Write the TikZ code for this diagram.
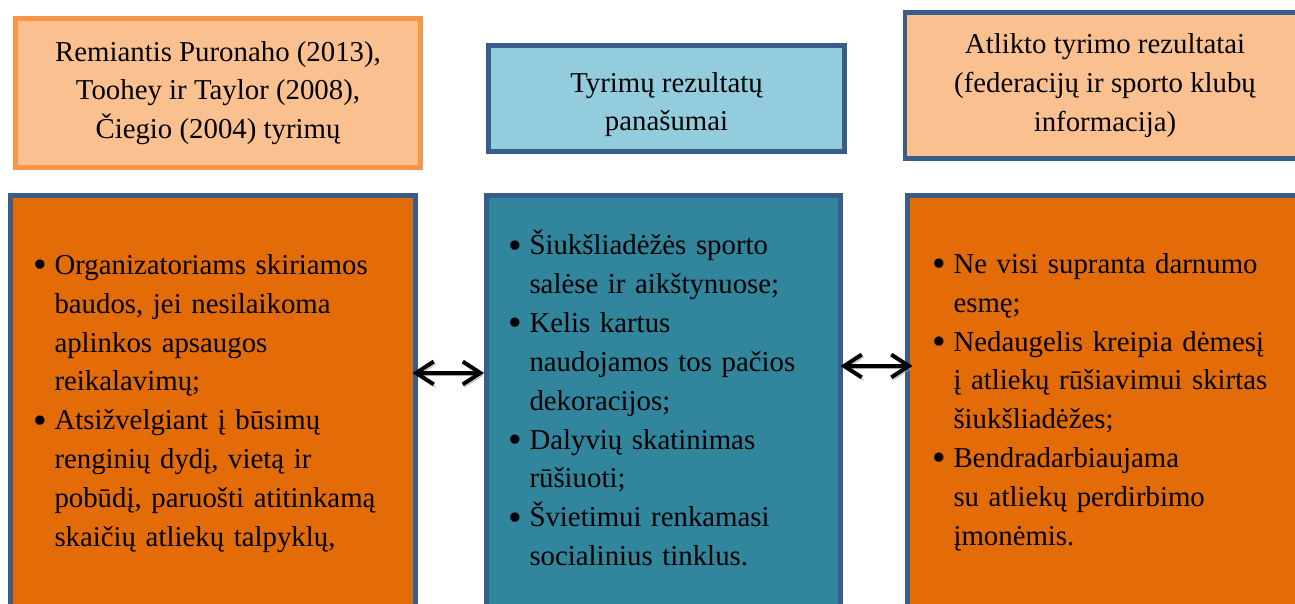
\documentclass[tikz,border=0pt]{standalone}
\usepackage{fontspec}
\usepackage{graphicx}
\setmainfont{Liberation Serif}
\usetikzlibrary{positioning,arrows.meta}
\tikzset{>=Stealth}
\definecolor{color1}{RGB}{250,192,144}
\definecolor{color2}{RGB}{247,150,70}
\definecolor{color3}{RGB}{56,93,138}
\definecolor{color4}{RGB}{147,205,221}
\definecolor{color5}{RGB}{227,108,9}
\definecolor{color6}{RGB}{49,133,156}
\newlength{\bulind}
\setlength{\bulind}{0.43cm}
\newcommand{\bul}[1]{\par\noindent\hangindent=\bulind\hangafter=1\makebox[\bulind][l]{\raisebox{-0.12em}{\scalebox{1.35}{\textbullet}}}#1\par}
\newcommand{\boxfont}{\fontsize{16.4}{22.1}\selectfont}

\begin{document}
\begin{tikzpicture}[
    box/.style={line width=2.8pt, inner sep=0pt, font=\boxfont},
    twoway/.style={<->, line width=2.3pt, line cap=round,
        >={Straight Barb[length=10pt,width=13pt]},
        preaction={draw=black!35, transform canvas={xshift=1pt,yshift=-1.5pt}}}
]
            \useasboundingbox (0,0) rectangle (25.9,12.06);
            \clip (0,0) rectangle (25.9,12.06);

            % Header boxes
            \node[box, draw=color2, fill=color1, align=center, minimum width=8.1cm, minimum height=2.98cm] (src) at (4.36,10.2)
                {Remiantis Puronaho (2013),\\ Toohey ir Taylor (2008),\\ Čiegio (2004) tyrimų};
            \node[box, draw=color3, fill=color4, align=center, minimum width=7.12cm, minimum height=2.12cm, text height=1.42cm] (simhead) at (13.33,10.09)
                {Tyrimų rezultatų\\ panašumai};
            \node[box, draw=color3, fill=color1, align=center, minimum width=8.0cm, minimum height=2.92cm] (own) at (22.1,10.35)
                {Atlikto tyrimo rezultatai\\ (federacijų ir sporto klubų\\ informacija)};

            % Result boxes
            \node[box, draw=color3, fill=color5, align=left, inner xsep=0.45cm, text width=7.2cm, minimum height=8.22cm, text depth=6.62cm] (lres) at (4.26,4.04) {%
                \bul{Organizatoriams skiriamos\newline baudos, jei nesilaikoma\newline aplinkos apsaugos\newline reikalavimų;}
                \bul{Atsižvelgiant į būsimų\newline renginių dydį, vietą ir\newline pobūdį, paruošti atitinkamą\newline skaičių atliekų talpyklų,}};
            \node[box, draw=color3, fill=color6, align=left, inner xsep=0.43cm, text width=6.22cm, minimum height=8.22cm, text depth=7.4cm] (sim) at (13.27,4.04) {%
                \bul{Šiukšliadėžės sporto\newline salėse ir aikštynuose;}
                \bul{Kelis kartus\newline naudojamos tos pačios\newline dekoracijos;}
                \bul{Dalyvių skatinimas\newline rūšiuoti;}
                \bul{Švietimui renkamasi\newline socialinius tinklus.}};
            \node[box, draw=color3, fill=color5, align=left, inner xsep=0.49cm, text width=7.12cm, minimum height=8.22cm, text depth=6.66cm] (rres) at (22.2,4.04) {%
                \bul{Ne visi supranta darnumo\newline esmę;}
                \bul{Nedaugelis kreipia dėmesį\newline į atliekų rūšiavimui skirtas\newline šiukšliadėžes;}
                \bul{Bendradarbiaujama\newline su atliekų perdirbimo\newline įmonėmis.}};

            % Two-way arrows
            \draw[twoway, shorten <=-0.11cm] ([yshift=0.56cm]lres.east) -- ([yshift=0.56cm]sim.west);
            \draw[twoway, shorten <=-0.05cm, shorten >=-0.15cm] ([yshift=0.7cm]sim.east) -- ([yshift=0.7cm]rres.west);

        \end{tikzpicture}
\end{document}
